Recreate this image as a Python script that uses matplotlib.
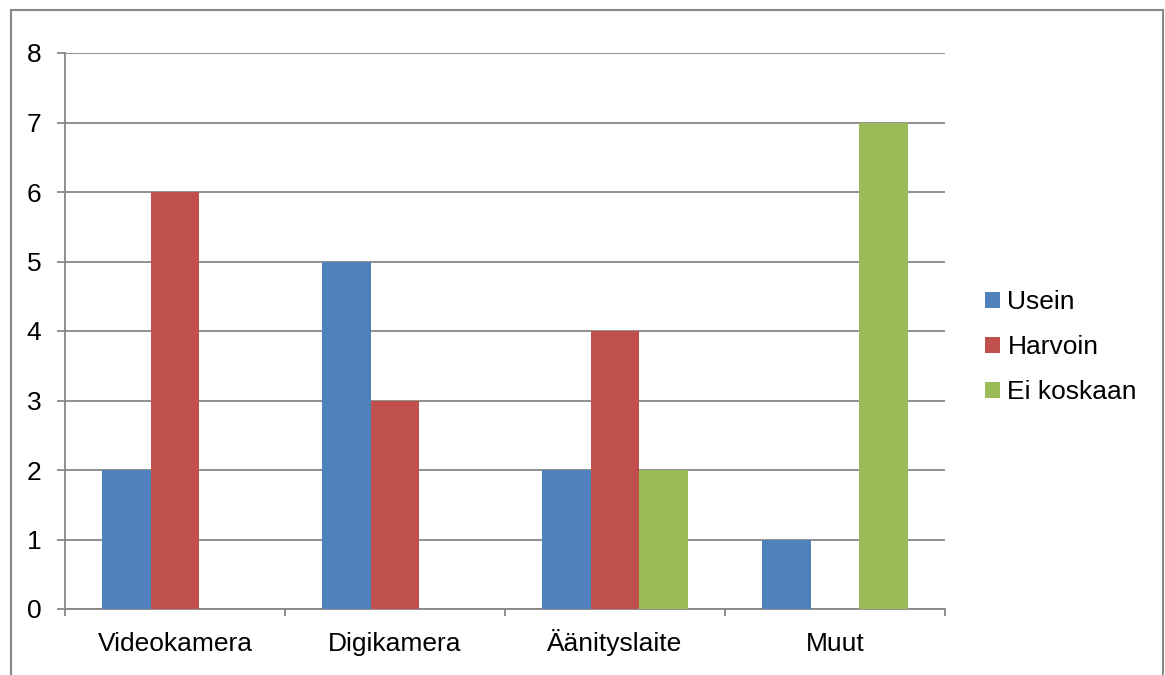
import numpy as np
import matplotlib.pyplot as plt
from matplotlib.patches import Rectangle

# Data
categories = ["Videokamera", "Digikamera", "Äänityslaite", "Muut"]
series = ["Usein", "Harvoin", "Ei koskaan"]
usein = [2, 5, 2, 1]
harvoin = [6, 3, 4, 0]
ei_koskaan = [0, 0, 2, 7]

colors = ["#4F81BD", "#C0504D", "#9BBB59"]
grid_col = "#878787"
FS = 19

plt.rcParams["font.family"] = ["Liberation Sans", "DejaVu Sans"]

fig = plt.figure(figsize=(11.65, 6.75), dpi=100)
ax = fig.add_axes([65 / 1165, 1 - 609 / 675, 880 / 1165, 556 / 675])

# outer chart border (bottom edge is cut off in the original)
fig.patches.append(Rectangle((11 / 1165, -0.1), 1152 / 1165, 1.1 - 10 / 675,
                             transform=fig.transFigure, fill=False,
                             edgecolor=grid_col, linewidth=1.5))

x = np.arange(len(categories))
w = 1 / 4.5
for i, (vals, col, name) in enumerate(zip([usein, harvoin, ei_koskaan], colors, series)):
    ax.bar(x + (i - 1) * w, vals, width=w, color=col, label=name, zorder=3)

ax.set_xlim(-0.5, len(categories) - 0.5)
ax.set_ylim(0, 8)
ax.set_yticks(range(0, 9))
ax.yaxis.grid(True, color=grid_col, linewidth=1.3, zorder=0)
ax.set_axisbelow(True)

ax.set_xticks(x)
ax.set_xticklabels(categories, fontsize=FS, va="baseline")
ax.set_xticks(np.arange(-0.5, len(categories)), minor=True)
ax.tick_params(axis="x", which="major", length=0, pad=30)
ax.tick_params(axis="x", which="minor", length=5, color=grid_col, width=1.3)
ax.tick_params(axis="y", labelsize=FS, length=6, color=grid_col, width=1.3, pad=11)

for s in ["top", "right"]:
    ax.spines[s].set_visible(False)
for s in ["left", "bottom"]:
    ax.spines[s].set_color(grid_col)
    ax.spines[s].set_linewidth(1.3)

ax.legend(loc="center left", bbox_to_anchor=((985 - 65) / 880, (609 - 347) / 556),
          frameon=False, fontsize=FS, handlelength=0.55, handleheight=0.55,
          handletextpad=0.3, labelspacing=0.8, borderaxespad=0, borderpad=0)

fig.savefig("out.png", dpi=100)
